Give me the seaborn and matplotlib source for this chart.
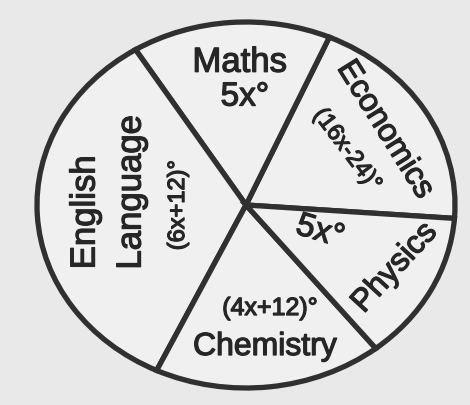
import matplotlib
matplotlib.use("Agg")
import matplotlib.pyplot as plt
import matplotlib.patheffects as pe
import seaborn as sns

# Subjects and the angle (degrees) each sector takes on the drawn chart
subjects = ["Economics", "Maths", "English Language", "Chemistry", "Physics"]
angles = [70.7, 55.4, 122.8, 63.7, 47.4]
start_angle = -4.2

# Text shown in each sector: (text, x, y, rotation, fontsize)
labels = [
    ("Maths", -0.03, 0.78, 0, 25),
    ("5x°", -0.005, 0.59, 0, 24),
    ("English", -0.77, -0.04, 90, 25),
    ("Language", -0.55, 0.07, 90, 25),
    ("(6x+12)°", -0.325, 0.0, 90, 17),
    ("Economics", 0.665, 0.41, -58, 23),
    ("(16x-24)°", 0.483, 0.30, -53, 17),
    ("5x°", 0.354, -0.148, -17, 24),
    ("Physics", 0.713, -0.344, 47.5, 23),
    ("(4x+12)°", 0.115, -0.563, 0, 18),
    ("Chemistry", 0.091, -0.776, 0, 23),
]

sns.set_theme(style="white")
plt.rcParams["font.family"] = ["Liberation Sans", "DejaVu Sans"]

paper = "#e9e9e9"
ink = "#262626"

fig = plt.figure(figsize=(4.7, 4.05), dpi=100, facecolor=paper)
ax = fig.add_axes([37 / 470, 17 / 405, 418 / 470, 366 / 405])
ax.set_facecolor(paper)

wedges, _ = ax.pie(
    angles,
    startangle=start_angle,
    counterclock=True,
    colors=["#f0f0f0"] * len(angles),
    wedgeprops=dict(edgecolor="#303030", linewidth=3.8, clip_on=False),
)
ax.set_aspect("auto")
ax.set_xlim(-1, 1)
ax.set_ylim(-1, 1)
ax.axis("off")

# Printed lettering is heavy; thicken glyphs slightly without widening them
heavy = [pe.withStroke(linewidth=0.9, foreground=ink)]
for text, x, y, rot, size in labels:
    ax.text(x, y, text, rotation=rot, fontsize=size, color=ink,
            ha="center", va="center", rotation_mode="anchor",
            path_effects=heavy)

fig.savefig("out.png", dpi=100, facecolor=paper)
